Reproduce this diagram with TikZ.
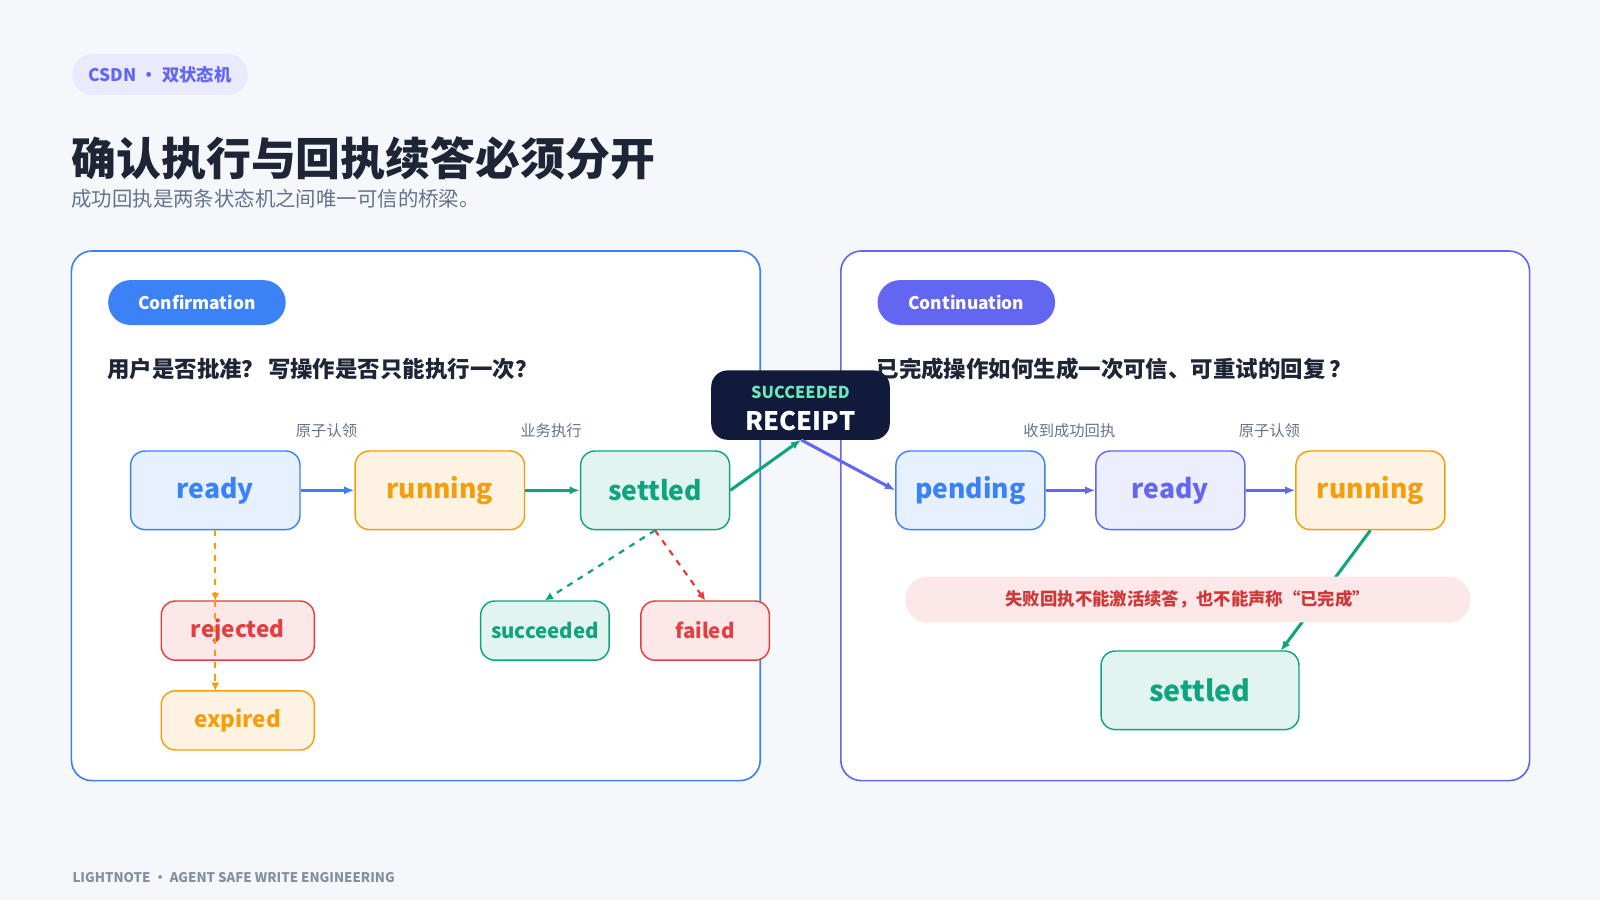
\documentclass[tikz,border=0pt]{standalone}
\usepackage{fontspec}
\setmainfont{Noto Sans CJK SC}
\usetikzlibrary{arrows.meta}
\definecolor{BgGray}{HTML}{F5F7FB}
\definecolor{Ink}{HTML}{1E2537}
\definecolor{Muted}{HTML}{64748B}
\definecolor{CBlue}{HTML}{3B82F6}
\definecolor{CPurple}{HTML}{6366F1}
\definecolor{COrange}{HTML}{F59E0B}
\definecolor{CGreen}{HTML}{10A37F}
\definecolor{CRed}{HTML}{E53E3E}
\definecolor{Navy}{HTML}{111A3A}
\definecolor{Mint}{HTML}{6EE7B7}

\tikzset{
  st/.style={draw=#1,fill=#1!12,text=#1,line width=0.7pt,rounded corners=7pt,font=\bfseries\fontsize{13}{15}\selectfont},
  sm/.style={st=#1,font=\bfseries\fontsize{10}{12}\selectfont},
  pill/.style={fill=#1,text=white,rounded corners=11pt,font=\bfseries\fontsize{8.5}{10}\selectfont,minimum width=87pt,minimum height=22pt},
  lab/.style={text=Muted,font=\fontsize{7.5}{9}\selectfont},
  flow/.style={-{Latex[length=5pt,width=4pt]},line width=1.5pt,#1},
  dflow/.style={-{Latex[length=4pt,width=4pt]},dashed,line width=1.1pt,#1}
}

\begin{document}
\begin{tikzpicture}[x=0.5pt,y=-0.5pt]
\fill[BgGray] (0,0) rectangle (1568,882);
\useasboundingbox (0,0) rectangle (1568,882);
% header
\node[fill=CPurple!14,text=CPurple,rounded corners=10pt,minimum width=86pt,minimum height=20pt,font=\bfseries\fontsize{8.5}{10}\selectfont] (tag) at (157,73) {CSDN · 双状态机};
\node[anchor=west,text=Ink,font=\bfseries\fontsize{22}{26}\selectfont] (title) at (63,155) {确认执行与回执续答必须分开};
\node[anchor=west,text=Muted,font=\fontsize{10}{12}\selectfont] (sub) at (63,195) {成功回执是两条状态机之间唯一可信的桥梁。};
% panels
\draw[CBlue,fill=white,line width=0.8pt,rounded corners=10pt] (70,246) rectangle (745,765);
\draw[CPurple,fill=white,line width=0.8pt,rounded corners=10pt] (824,246) rectangle (1499,765);
\node[pill=CBlue] (conf) at (193,296.5) {Confirmation};
\node[pill=CPurple] (cont) at (947,296.5) {Continuation};
\node[anchor=west,text=Ink,font=\bfseries\fontsize{11}{13}\selectfont] (q1) at (98,362) {用户是否批准？\,写操作是否只能执行一次？};
\node[anchor=west,text=Ink,font=\bfseries\fontsize{11}{13}\selectfont] (q2) at (852,362) {已完成操作如何生成一次可信、可重试的回复\,？};
% left machine
\node[st=CBlue,minimum width=83pt,minimum height=38.5pt] (ready) at (211,480.5) {ready};
\node[st=COrange,minimum width=83pt,minimum height=38.5pt] (running) at (431,480.5) {running};
\node[st=CGreen,minimum width=73pt,minimum height=38.5pt] (settled) at (642,480.5) {settled};
\node[sm=CRed,minimum width=75pt,minimum height=29pt,font=\bfseries\fontsize{11}{12}\selectfont] (rejected) at (233,618) {rejected};
\node[sm=COrange,minimum width=75pt,minimum height=29pt,font=\bfseries\fontsize{11}{12}\selectfont] (expired) at (233,706) {expired};
\node[sm=CGreen,minimum width=63pt,minimum height=29pt] (succeeded) at (534,618) {succeeded};
\node[sm=CRed,minimum width=63pt,minimum height=29pt] (failed) at (691,618) {failed};
\node[lab] (l1) at (320,422) {原子认领};
\node[lab] (l2) at (540,422) {业务执行};
\draw[flow=CBlue] (ready) -- (running);
\draw[flow=CGreen] (running) -- (settled);
\coordinate (rj) at (211,589);
\coordinate (ex) at (211,677);
\draw[dflow=COrange] (ready.south -| rj) -- (rj);
\draw[dflow=COrange] (rj) -- (ex);
\draw[dflow=CGreen] (settled.south) -- (succeeded.north);
\draw[dflow=CRed] (settled.south) -- (failed.north);
% right machine
\node[st=CBlue,minimum width=73pt,minimum height=38.5pt] (pending) at (951,480.5) {pending};
\node[st=CPurple,minimum width=73pt,minimum height=38.5pt] (ready2) at (1147,480.5) {ready};
\node[st=COrange,minimum width=73pt,minimum height=38.5pt] (running2) at (1343,480.5) {running};
\node[st=CGreen,minimum width=97pt,minimum height=38.5pt,font=\bfseries\fontsize{14}{16}\selectfont] (settled2) at (1176,676.5) {settled};
\node[lab] (l3) at (1048,422) {收到成功回执};
\node[lab] (l4) at (1244,422) {原子认领};
\draw[flow=CPurple] (pending) -- (ready2);
\draw[flow=CPurple] (ready2) -- (running2);
\coordinate (s2top) at (1255,638);
\draw[flow=CGreen] (running2.south) -- (s2top);
\node[fill=CRed!12,text=CRed!90!black,rounded corners=11pt,minimum width=277pt,minimum height=22.5pt,font=\bfseries\fontsize{8.5}{10}\selectfont] (warn) at (1164,587.5) {失败回执不能激活续答，也不能声称“已完成”};
% receipt bridge
\node[fill=Navy,rounded corners=8pt,minimum width=87.5pt,minimum height=34pt,inner sep=0pt] (receipt) at (784.5,397) {};
\node[text=Mint,font=\bfseries\fontsize{8}{9}\selectfont] (rcpt1) at (784.5,385) {SUCCEEDED};
\node[text=white,font=\bfseries\fontsize{12.5}{14}\selectfont] (rcpt2) at (784.5,413) {RECEIPT};
\coordinate (rb) at (785,431);
\draw[flow=CGreen] (settled.east) -- (rb);
\draw[flow=CPurple] (rb) -- (pending.west);
% footer
\node[anchor=west,text=Muted!80,font=\bfseries\fontsize{6.5}{8}\selectfont] (foot) at (64,860) {LIGHTNOTE · AGENT SAFE WRITE ENGINEERING};
\end{tikzpicture}
\end{document}
